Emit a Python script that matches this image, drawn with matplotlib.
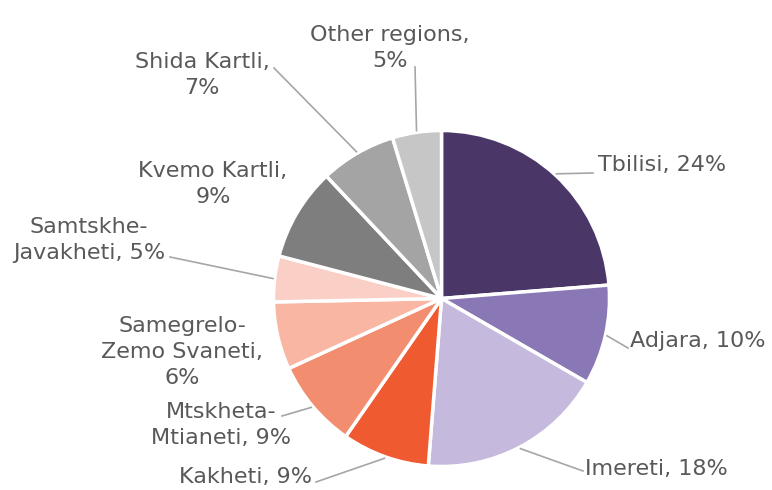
import numpy as np
import matplotlib
matplotlib.use("Agg")
import matplotlib.pyplot as plt

# data (slice sizes estimated from the angles)
regions = ["Tbilisi", "Adjara", "Imereti", "Kakheti", "Mtskheta-Mtianeti",
           "Samegrelo-Zemo Svaneti", "Samtskhe-Javakheti", "Kvemo Kartli",
           "Shida Kartli", "Other regions"]
shares = [23.7, 9.6, 17.9, 8.4, 8.5, 6.5, 4.4, 8.9, 7.3, 4.7]
label_texts = [
    "Tbilisi, 24%",
    "Adjara, 10%",
    "Imereti, 18%",
    "Kakheti, 9%",
    "Mtskheta-\nMtianeti, 9%",
    "Samegrelo-\nZemo Svaneti,\n6%",
    "Samtskhe-\nJavakheti, 5%",
    "Kvemo Kartli,\n9%",
    "Shida Kartli,\n7%",
    "Other regions,\n5%",
]
colors = ["#4a3768", "#8a78b6", "#c5badd", "#ef5a30", "#f28d70",
          "#f8b6a3", "#facfc6", "#7e7e7e", "#a4a4a4", "#c6c6c6"]

W, H = 772, 490
cx, cy, r = 441.5, H - 298.5, 168

# label placement in pixel coords (x, y from top, ha) and leader line ends
label_pos = [
    (598, 165, "left"),
    (630, 341, "left"),
    (585, 469, "left"),
    (312, 477, "right"),
    (221, 425, "center"),
    (182, 352, "center"),
    (89, 240, "center"),
    (213, 184, "center"),
    (202, 75, "center"),
    (390, 48, "center"),
]
line_ends = [
    (593, 173), (628, 348), (583, 471), (316, 482), (282, 416),
    None, (170, 257), None, (274, 68), (415, 67),
]

fig = plt.figure(figsize=(W / 100, H / 100), dpi=100)
ax = fig.add_axes([0, 0, 1, 1])
ax.pie(shares, colors=colors, startangle=90, counterclock=False,
       center=(cx, cy), radius=r,
       wedgeprops=dict(edgecolor="white", linewidth=2.5))
ax.set_xlim(0, W)
ax.set_ylim(0, H)
ax.set_aspect("equal")
ax.set_axis_off()

fracs = np.array(shares) / sum(shares)
ends = 90 - np.cumsum(fracs) * 360
starts = ends + fracs * 360
mids = np.radians((starts + ends) / 2)

for i, txt in enumerate(label_texts):
    x, y, ha = label_pos[i]
    ax.text(x, H - y, txt, ha=ha, va="center", fontsize=16,
            color="#595959", linespacing=1.35)
    if line_ends[i] is not None:
        ex = cx + r * 1.01 * np.cos(mids[i])
        ey = cy + r * 1.01 * np.sin(mids[i])
        lx, ly = line_ends[i]
        ax.plot([ex, lx], [ey, H - ly], color="#a6a6a6", lw=1.2)

fig.savefig("out.png", dpi=100)
